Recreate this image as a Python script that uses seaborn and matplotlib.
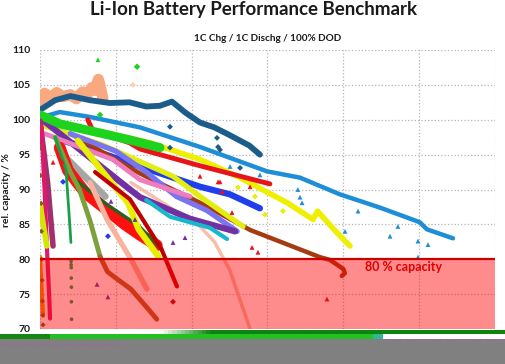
import matplotlib
matplotlib.use("Agg")
import matplotlib.pyplot as plt
import seaborn as sns
from matplotlib.patches import Rectangle
from matplotlib.lines import Line2D

sns.set_style("white")
plt.rcParams['font.family'] = ['Lato', 'DejaVu Sans']

# ---------------- data (x = cycles, y = relative capacity %) ----------------
title = "Li-Ion Battery Performance Benchmark"
subtitle = "1C Chg / 1C Dischg / 100% DOD"
y_ticks = [70, 75, 80, 85, 90, 95, 100, 105, 110]
x_grid = [0, 500, 1000, 1500, 2000, 2500, 3000]

lightblue_x = [0, 130, 330, 660, 1055, 1497, 1714, 1978, 2242, 2505, 2550, 2723]
lightblue_y = [100.3, 101.1, 100.4, 98.9, 96.1, 92.6, 91.7, 89.3, 87.4, 85.3, 84.3, 83.0]
peach_x = [0, 30, 70, 110, 150, 200, 240, 280, 310, 340, 360, 375, 385, 395, 405, 415]
peach_y = [102.5, 103.8, 103.2, 103.9, 103.3, 103.6, 103.0, 104.0, 103.6, 104.6, 104.2, 105.2, 105.8, 105.0, 104.0, 103.0]
darkblue_x = [0, 100, 200, 330, 460, 590, 700, 790, 870, 960, 1055, 1150, 1250, 1380, 1450]
darkblue_y = [101.4, 102.8, 103.4, 102.8, 102.4, 102.5, 101.9, 102.0, 102.6, 101.0, 99.6, 98.9, 97.8, 96.3, 95.0]
yellowtop_x = [0, 396, 725, 1055, 1300, 1630, 1800, 1830, 1950, 2044]
yellowtop_y = [99.7, 98.3, 96.7, 94.3, 91.9, 88.1, 85.7, 86.9, 84.0, 81.9]
redtop_x = [315, 345, 400, 590, 660, 1055, 1516]
redtop_y = [100.0, 98.6, 98.1, 96.7, 95.8, 93.4, 90.8]
royal_x = [132, 264, 659, 1055, 1253, 1450]
royal_y = [97.1, 96.3, 93.3, 90.4, 89.3, 87.3]
brown_x = [200, 659, 1055, 1385, 1846, 1912, 1960, 2000, 2010, 1990]
brown_y = [98.0, 92.3, 88.1, 84.2, 80.3, 79.9, 79.2, 78.6, 78.0, 77.6]
yellow2_x = [0, 400, 877, 1055, 1339]
yellow2_y = [99.3, 96.5, 91.9, 89.0, 84.7]
peri_x = [200, 500, 700, 900, 1100, 1300]
peri_y = [98.0, 95.5, 92.5, 89.0, 87.0, 84.0]
purple_x = [33, 264, 593, 659, 989, 1286]
purple_y = [99.7, 95.7, 90.0, 88.9, 85.8, 84.0]
pink_x = [30, 480, 660, 990]
pink_y = [98.0, 94.3, 91.4, 89.0]
cyan_x = [700, 857, 1121, 1233]
cyan_y = [88.5, 86.1, 84.5, 82.9]
gray_x = [150, 270, 430]
gray_y = [95.0, 92.4, 89.0]
redband_x = [130, 185, 300, 429, 560, 660, 770]
redband_y = [96.0, 92.7, 89.5, 87.3, 85.0, 83.5, 82.0]
darkgreen_x = [205, 430, 650, 780]
darkgreen_y = [91.9, 88.0, 84.8, 81.9]
yellow3_x = [250, 400, 580, 650, 780]
yellow3_y = [97.0, 92.9, 88.1, 84.3, 80.4]
crimson_x = [363, 593, 800, 903]
crimson_y = [92.5, 88.6, 81.5, 76.1]
salmon_x = [330, 442, 600, 705]
salmon_y = [91.0, 85.7, 80.0, 75.7]
faint_x = [600, 1055, 1150, 1250, 1385]
faint_y = [91.0, 84.7, 82.5, 78.5, 70.0]
olive_x = [100, 200, 260, 330, 396]
olive_y = [97.5, 92.5, 90.0, 85.5, 80.4]
sienna_x = [396, 445, 500, 600, 700, 770]
sienna_y = [80.4, 78.2, 77.3, 75.7, 73.2, 71.4]
green_x = [0, 132, 396, 593, 791]
green_y = [100.7, 99.4, 98.1, 97.1, 96.0]
gvert_x = [100, 171, 190, 204]
gvert_y = [97.5, 92.9, 87.0, 82.4]
gdots_x = [205, 205, 206, 206, 207, 207, 208]
gdots_y = [79.7, 79.2, 78.8, 77.3, 76.0, 73.9, 71.4]
plum_x = [0, 50, 86]
plum_y = [99.8, 91.0, 81.9]
deeppink_x = [10, 30, 45, 60, 66]
deeppink_y = [99.0, 90.0, 82.0, 75.0, 71.5]
orange_x = [0, 10, 20]
orange_y = [80.4, 76.0, 71.9]
lime_x = [0, 25, 45]
lime_y = [88.0, 84.5, 81.9]
gold_x = [0, 4, 8, 10, 12, 14, 16, 18, 20]
gold_y = [96.0, 92.0, 88.0, 84.0, 80.0, 77.0, 74.0, 72.0, 70.6]

tri_lb_x = [1253, 1450, 1700, 1714, 1728, 2097, 2011, 2308, 2360, 2492, 2558, 2492]
tri_lb_y = [93.3, 92.1, 90.0, 88.9, 88.1, 86.9, 84.0, 83.3, 84.7, 82.6, 82.1, 80.3]
tri_red_x = [1174, 1385, 1200, 1266, 1398, 1437, 1055, 1187, 86, 145, 1892]
tri_red_y = [91.1, 90.4, 89.7, 86.7, 81.7, 81.0, 91.9, 91.1, 93.9, 94.0, 74.3]
dia_db_x = [1167, 1174, 1319, 857, 857, 1187]
dia_db_y = [97.4, 96.1, 93.1, 99.0, 96.0, 95.7]
dia_yel_x = [1483, 1602, 1305, 1417]
dia_yel_y = [86.4, 86.9, 90.3, 89.0]
tri_pur_x = [877, 956, 376, 448, 626, 468]
tri_pur_y = [82.4, 83.1, 76.4, 74.6, 85.7, 88.3]
dia_grn_x = [640, 396]
dia_grn_y = [107.6, 100.7]
tri_grn_x = [382]
tri_grn_y = [108.6]
dia_blue_x = [152, 448]
dia_blue_y = [91.1, 83.3]
dia_dred_x = [877]
dia_dred_y = [73.9]
dia_peach_x = [613]
dia_peach_y = [105.0]

# ---------------- figure ----------------
W, H = 506, 364
fig = plt.figure(figsize=(W / 100, H / 100), dpi=100)
ax = fig.add_axes([40 / W, 35 / H, 455 / W, 279 / H])


def band(x, y, color, lw, alpha=1.0, z=2):
    sns.lineplot(x=x, y=y, color=color, linewidth=lw, alpha=alpha, ax=ax,
                 sort=False, estimator=None, zorder=z,
                 solid_capstyle='round', solid_joinstyle='round', legend=False)


def pts(x, y, color, marker, s=12, z=6):
    sns.scatterplot(x=x, y=y, color=color, marker=marker, s=s, ax=ax,
                    edgecolor='none', linewidth=0, zorder=z, legend=False)


band(faint_x, faint_y, "#F6B49C", 2.5, 0.85)
band(lightblue_x, lightblue_y, "#1E8ED6", 3.2)
band(peach_x, peach_y, "#F9A97F", 8)
band(darkblue_x, darkblue_y, "#1B5C8A", 4.2)
band(yellowtop_x, yellowtop_y, "#EEF000", 4)
band(redtop_x, redtop_y, "#E8141A", 3.5)
band(royal_x, royal_y, "#1F3FEA", 4.5)
band(brown_x, brown_y, "#A63A10", 3.2)
band(yellow2_x, yellow2_y, "#E2EE10", 3.8)
band(peri_x, peri_y, "#7B74F0", 3.8)
band(purple_x, purple_y, "#7230A2", 4.5)
band(pink_x, pink_y, "#F07CC0", 3.5)
band(cyan_x, cyan_y, "#18B8CC", 3)
band(gray_x, gray_y, "#A6A6A6", 5)
band(redband_x, redband_y, "#FF1010", 8.5)
band(darkgreen_x, darkgreen_y, "#2F5F1F", 2.5)
band(yellow3_x, yellow3_y, "#E6F000", 4.5)
band(crimson_x, crimson_y, "#C00000", 3)
band(salmon_x, salmon_y, "#F7B39E", 3.8)
band(olive_x, olive_y, "#7BA03C", 3.5)
band(sienna_x, sienna_y, "#A8642A", 3.5)
band(green_x, green_y, "#1ED31E", 6.5, z=3)
band(gvert_x, gvert_y, "#17A04A", 2, z=3)
band(plum_x, plum_y, "#A0306E", 4, z=3)
band(deeppink_x, deeppink_y, "#E0186A", 3, z=3)
band(lime_x, lime_y, "#D4E600", 4, z=3)
band(orange_x, orange_y, "#F29100", 3, z=3)

pts(gold_x, gold_y, "#8B5A1B", "D", 7)
pts(gdots_x, gdots_y, "#17A04A", "o", 7)
pts(tri_lb_x, tri_lb_y, "#1E8ED6", "^")
pts(tri_red_x, tri_red_y, "#E8141A", "^")
pts(dia_db_x, dia_db_y, "#1B5C8A", "D", 9)
pts(dia_yel_x, dia_yel_y, "#E6F000", "D", 9)
pts(tri_pur_x, tri_pur_y, "#7230A2", "^")
pts(dia_grn_x, dia_grn_y, "#1ED31E", "D", 11)
pts(tri_grn_x, tri_grn_y, "#1ED31E", "^")
pts(dia_blue_x, dia_blue_y, "#1F3FEA", "D", 9)
pts(dia_dred_x, dia_dred_y, "#C00000", "D", 9)
pts(dia_peach_x, dia_peach_y, "#FAD0B4", "D", 9)

# capacity-limit zone
ax.axhspan(70, 80, color="red", alpha=0.45, lw=0, zorder=10)
ax.axhline(80, color="#CC0000", lw=1.6, zorder=11)
ax.text(2143, 78.9, "80 % capacity", color="#E00000", fontsize=9,
        fontweight="bold", va="center", ha="left", zorder=12)

ax.set_xlim(0, 3000)
ax.set_ylim(70, 110)
ax.set_xticks(x_grid)
ax.set_yticks(y_ticks)
ax.set_xticklabels([])
ax.set_yticklabels([str(v) for v in y_ticks])
ax.set_xlabel("")
ax.set_ylabel("")
ax.grid(True, ls=":", color="#B5B5B5", lw=0.9)
ax.set_axisbelow(True)
for sp in ax.spines.values():
    sp.set_visible(False)
ax.tick_params(length=0, pad=7, labelsize=7.5, colors="#1a1a1a")
for lbl in ax.get_yticklabels():
    lbl.set_fontweight("bold")

fig.text(0.501, 1 - 15 / H, title, ha="center", va="baseline",
         fontsize=13.5, fontweight="bold", color="#1a1a1a")
fig.text(267.5 / W, 1 - 41 / H, subtitle, ha="center", va="baseline",
         fontsize=7.2, fontweight="bold", color="#1a1a1a")
fig.text(7 / W, 1 - 190 / H, "rel. capacity / %", rotation=90, ha="center",
         va="center", fontsize=7.5, fontweight="bold", color="#1a1a1a")

# ---------------- bottom strip artefact ----------------
def frect(x0, y0, x1, y1, color):
    fig.add_artist(Rectangle((x0 / W, 1 - y1 / H), (x1 - x0) / W, (y1 - y0) / H,
                             transform=fig.transFigure, color=color, lw=0, zorder=20))

frect(0, 339, W, H, "#808080")
frect(0, 334, 50, 339, "#148814")
frect(50, 334, 373, 339, "#22C022")
frect(373, 334, 383, 339, "#30B890")
steps = 12
for i in range(steps):
    t = (i + 0.5) / steps
    r = 1 - t * (1 - 0.05)
    g = 1 - t * (1 - 0.52)
    b = 1 - t * (1 - 0.05)
    frect(160 + i * 50 / steps, 329.5, 160 + (i + 1) * 50 / steps + 0.5, 334, (r, g, b))
frect(210, 329.5, W, 334, "#0D840D")
fig.add_artist(Line2D([0, 123 / W], [1 - 344 / H] * 2, transform=fig.transFigure,
                      color="#D040D0", lw=0.8, ls=(0, (1, 2)), zorder=21))
fig.add_artist(Line2D([383 / W, 1], [1 - 338.5 / H] * 2, transform=fig.transFigure,
                      color="#D040D0", lw=0.8, ls=(0, (1, 2)), zorder=21))

fig.savefig("out.png", dpi=100)
